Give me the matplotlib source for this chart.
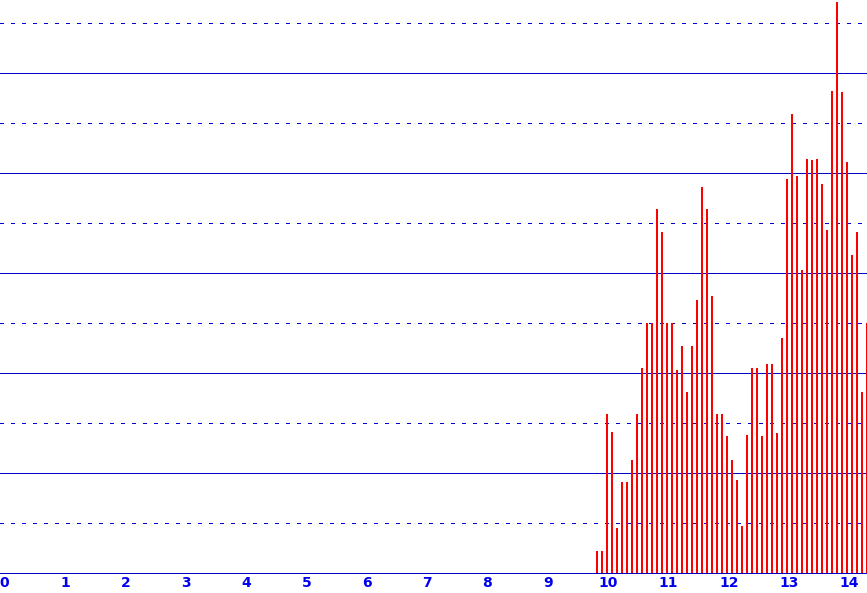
import numpy as np
import matplotlib
matplotlib.use('Agg')
import matplotlib.pyplot as plt

# bin layout (about one month per bar)
bin_start = 9.815
bin_step = 0.0828

heights = [0.44, 0.44, 3.18, 2.82, 0.90, 1.82, 1.82, 2.26, 3.18, 4.10,
           5.00, 5.00, 7.28, 6.82, 5.00, 5.00, 4.06, 4.54, 3.62, 4.54,
           5.46, 7.72, 7.28, 5.54, 3.18, 3.18, 2.74, 2.26, 1.86, 0.94,
           2.76, 4.10, 4.10, 2.74, 4.18, 4.18, 2.80, 4.70, 7.88, 9.18,
           7.94, 6.06, 8.28, 8.26, 8.28, 7.78, 6.86, 9.64, 11.42, 9.62,
           8.22, 6.36, 6.82, 3.62, 5.00]

xticks = list(range(0, 15))
solid_lines = [2, 4, 6, 8, 10]
dotted_lines = [1, 3, 5, 7, 9, 11]

grid_col = '#0000cc'
label_col = '#0000ee'

fig = plt.figure(figsize=(8.67, 5.93), dpi=100)
ax = fig.add_axes([0, 20 / 593, 1, 573 / 593])

for y in solid_lines:
    ax.axhline(y, color=grid_col, lw=0.72, zorder=1, antialiased=False)
for y in dotted_lines:
    ax.axhline(y, color=grid_col, lw=0.72, dashes=(3, 7), zorder=1,
               antialiased=False)

x = bin_start + np.arange(len(heights)) * bin_step
ax.bar(x, heights, width=0.036, color='red', linewidth=0, zorder=2,
       antialiased=False)

ax.set_xlim(-0.075, 14.287)
ax.set_ylim(0, 11.46)

ax.set_xticks(xticks)
ax.set_xticklabels([str(t) for t in xticks])
ax.tick_params(axis='x', length=0, pad=2, labelcolor=label_col, labelsize=10)
ax.set_yticks([])
for lab in ax.get_xticklabels():
    lab.set_fontweight('bold')

for s in ['top', 'left', 'right']:
    ax.spines[s].set_visible(False)
ax.spines['bottom'].set_color(grid_col)
ax.spines['bottom'].set_linewidth(0.72)
ax.spines['bottom'].set_antialiased(False)
ax.spines['bottom'].set_zorder(3)
ax.set_facecolor('white')

fig.savefig('out.png', dpi=100)
